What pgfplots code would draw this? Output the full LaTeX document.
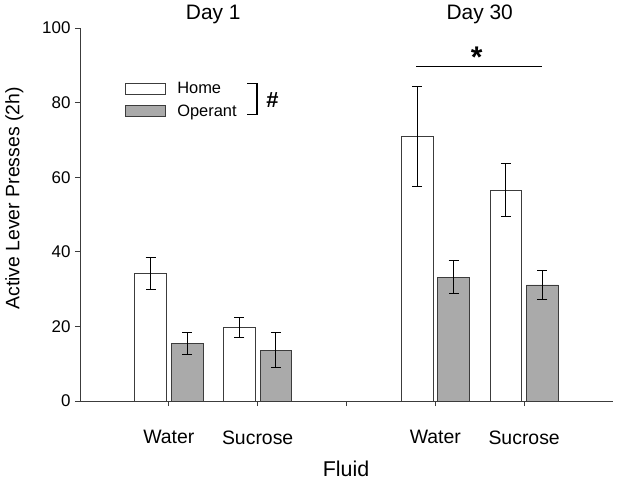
\documentclass[border=0pt]{standalone}
\usepackage{pgfplots}
\pgfplotsset{compat=1.18}
\usepackage{fontspec}
\setmainfont{Liberation Sans}
\definecolor{opgray}{RGB}{170,170,170}
\definecolor{edge}{RGB}{60,60,60}
\begin{document}
\begin{tikzpicture}
\begin{axis}[
  scale only axis, width=533bp, height=373bp,
  xmin=-1, xmax=5, ymin=0, ymax=100,
  axis lines*=left,
  axis line style={edge, line width=0.9pt},
  xtick={0,1,2,3,4}, xticklabels={Water,Sucrose,,Water,Sucrose},
  ytick={0,20,40,60,80,100},
  tick align=outside, major tick length=5bp,
  tick style={edge, line width=0.9pt},
  /pgf/number format/assume math mode=true,
  y tick label style={font=\fontsize{17}{19}\selectfont, xshift=-1bp},
  x tick label style={font=\fontsize{19.5}{22}\selectfont, yshift=-21bp},
  xlabel={Fluid},
  xlabel style={at={(axis description cs:0.499,-0.182)}, anchor=center, font=\fontsize{21.5}{24}\selectfont},
  ylabel={Active Lever Presses (2h)},
  ylabel style={at={(axis description cs:-0.123,0.543)}, anchor=center, font=\fontsize{19.5}{22}\selectfont},
  clip=false,
  legend image code/.code={\draw[#1] (0bp,-5.5bp) rectangle (40bp,5.5bp); \path (49.5bp,0bp);},
  legend style={draw=none, fill=none, at={(axis cs:-0.495,80.7)}, anchor=west,
     font=\fontsize{16.5}{18}\selectfont, row sep=5.5bp, inner sep=0pt,
     nodes={inner sep=2bp, anchor=west}},
  legend cell align=left,
  error bars/error bar style={black, line width=1pt},
  error bars/error mark options={rotate=90, mark size=5bp, line width=1pt, black},
]
\addplot[ybar, bar width=0.357, bar shift=0, fill=white, draw=edge, line width=0.7pt,
  error bars/.cd, y dir=both, y explicit]
  coordinates {(-0.206,34.2) +- (0,4.3) (0.794,19.7) +- (0,2.8) (2.794,71.0) +- (0,13.4) (3.794,56.5) +- (0,7.1)};
\addlegendentry{Home}
\addplot[ybar, bar width=0.357, bar shift=0, fill=opgray, draw=edge, line width=0.7pt,
  error bars/.cd, y dir=both, y explicit]
  coordinates {(0.206,15.4) +- (0,3.0) (1.206,13.6) +- (0,4.7) (3.206,33.2) +- (0,4.4) (4.206,31.1) +- (0,4.0)};
\addlegendentry{Operant}
% bracket and hash
\draw[black, line width=1.1pt] (axis cs:0.88,85.0) -- (axis cs:0.993,85.0) -- (axis cs:0.993,76.7) -- (axis cs:0.88,76.7);
\node[font=\bfseries\fontsize{22}{24}\selectfont] at (axis cs:1.167,80.8) {\#};
% significance
\draw[black, line width=1pt] (axis cs:2.783,89.6) -- (axis cs:4.201,89.6);
\node[font=\bfseries\fontsize{30}{32}\selectfont, anchor=north, inner sep=0pt] at (axis cs:3.466,95.0) {*};
% day labels
\node[font=\fontsize{21}{23}\selectfont] at (axis cs:0.5,103.7) {Day 1};
\node[font=\fontsize{21}{23}\selectfont] at (axis cs:3.5,103.7) {Day 30};
\end{axis}
\pgfresetboundingbox
\path (-80bp,-81bp) rectangle (538bp,401bp);
\end{tikzpicture}
\end{document}
